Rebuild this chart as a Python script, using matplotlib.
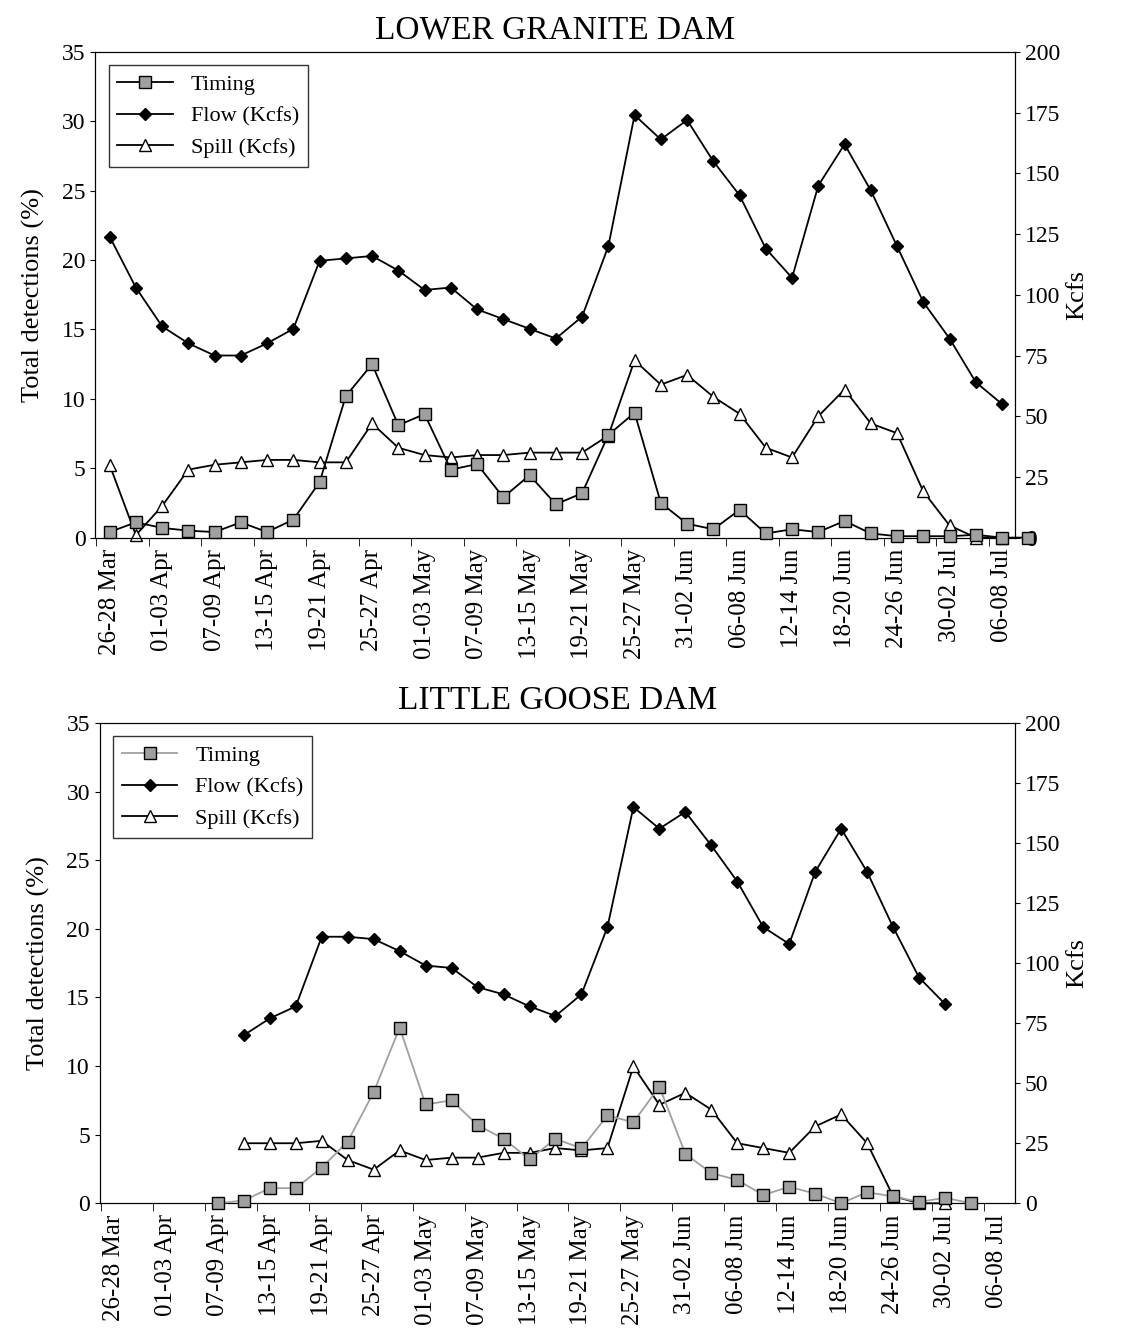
import numpy as np
import matplotlib
matplotlib.use('Agg')
from matplotlib import pyplot as plt

plt.rcParams['font.family'] = ['Liberation Serif', 'DejaVu Serif']
plt.rcParams['font.size'] = 17

labels = ['26-28 Mar', '01-03 Apr', '07-09 Apr', '13-15 Apr', '19-21 Apr', '25-27 Apr',
          '01-03 May', '07-09 May', '13-15 May', '19-21 May', '25-27 May', '31-02 Jun',
          '06-08 Jun', '12-14 Jun', '18-20 Jun', '24-26 Jun', '30-02 Jul', '06-08 Jul']

# Lower Granite (timing in %, flow/spill in Kcfs)
lg_timing = [0.4, 1.1, 0.7, 0.5, 0.4, 1.1, 0.4, 1.3, 4.0, 10.2, 12.5, 8.1, 8.9, 4.9, 5.3, 2.9,
             4.5, 2.4, 3.2, 7.4, 9.0, 2.5, 1.0, 0.6, 2.0, 0.3, 0.6, 0.4, 1.2, 0.3, 0.1, 0.1,
             0.1, 0.2, 0.0, 0.0]
lg_flow = [124, 103, 87, 80, 75, 75, 80, 86, 114, 115, 116, 110, 102, 103, 94, 90, 86, 82,
           91, 120, 174, 164, 172, 155, 141, 119, 107, 145, 162, 143, 120, 97, 82, 64, 55]
lg_spill = [30, 1, 13, 28, 30, 31, 32, 32, 31, 31, 47, 37, 34, 33, 34, 34, 35, 35, 35, 42,
            73, 63, 67, 58, 51, 37, 33, 50, 61, 47, 43, 19, 5, 0, 0]

# Little Goose
lgo_timing_start = 4
lgo_timing = [0.0, 0.2, 1.1, 1.1, 2.6, 4.5, 8.1, 12.8, 7.2, 7.5, 5.7, 4.7, 3.2, 4.7, 4.0,
              6.4, 5.9, 8.5, 3.6, 2.2, 1.7, 0.6, 1.2, 0.7, 0.0, 0.8, 0.5, 0.1, 0.4, 0.0]
lgo_start = 5
lgo_flow = [70, 77, 82, 111, 111, 110, 105, 99, 98, 90, 87, 82, 78, 87, 115, 165, 156, 163,
            149, 134, 115, 108, 138, 156, 138, 115, 94, 83]
lgo_spill = [25, 25, 25, 26, 18, 14, 22, 18, 19, 19, 21, 21, 23, 22, 23, 57, 41, 46, 39,
             25, 23, 21, 32, 37, 25, 3, 0, 0]

fig = plt.figure(figsize=(11.33, 13.34), dpi=100)


def panel(rect, title, t_x, t, f_x, f, s_x, s, tcolor, xmax):
    ax = fig.add_axes(rect)
    ax2 = ax.twinx()
    lt, = ax.plot(t_x, t, '-', color=tcolor, lw=1.3, marker='s', ms=8, mfc='#a0a0a0',
                  mec='black', clip_on=False, zorder=3)
    lf, = ax2.plot(f_x, f, '-', color='black', lw=1.3, marker='D', ms=6, mfc='black',
                   mec='black', clip_on=False)
    ls, = ax2.plot(s_x, s, '-', color='black', lw=1.3, marker='^', ms=8, mfc='white',
                   mec='black', clip_on=False)
    ax.set_ylim(0, 35)
    ax2.set_ylim(0, 200)
    ax.set_yticks(range(0, 36, 5))
    ax2.set_yticks(range(0, 201, 25))
    ax.set_xlim(-0.55, xmax)
    ax.set_xticks(np.arange(0, 36, 2))
    ax.set_xticks(np.arange(-0.5, 35, 2), minor=True)
    ax.set_xticklabels(labels, rotation=90, fontsize=18)
    ax.tick_params(axis='x', which='major', length=0, pad=8)
    ax.tick_params(axis='x', which='minor', length=6)
    ax.set_ylabel('Total detections (%)', fontsize=19, labelpad=12)
    ax2.set_ylabel('Kcfs', fontsize=19)
    ax.set_title(title, fontsize=24, pad=10)
    leg = ax.legend([lt, lf, ls], ['Timing', 'Flow (Kcfs)', 'Spill (Kcfs)'],
                    loc='upper left', fancybox=False, edgecolor='black', fontsize=16,
                    handlelength=2.5, borderaxespad=0.6)
    leg.get_frame().set_linewidth(1.0)
    ax.set_zorder(ax2.get_zorder() + 1)
    ax.patch.set_visible(False)
    return ax


panel([0.084, 0.597, 0.812, 0.364], 'LOWER GRANITE DAM',
      np.arange(len(lg_timing)), lg_timing,
      np.arange(len(lg_flow)), lg_flow,
      np.arange(len(lg_spill)), lg_spill, 'black', 34.5)

panel([0.088, 0.098, 0.808, 0.360], 'LITTLE GOOSE DAM',
      np.arange(len(lgo_timing)) + lgo_timing_start, lgo_timing,
      np.arange(len(lgo_flow)) + lgo_start, lgo_flow,
      np.arange(len(lgo_spill)) + lgo_start, lgo_spill, '#a0a0a0', 34.7)

fig.savefig('out.png', dpi=100)
